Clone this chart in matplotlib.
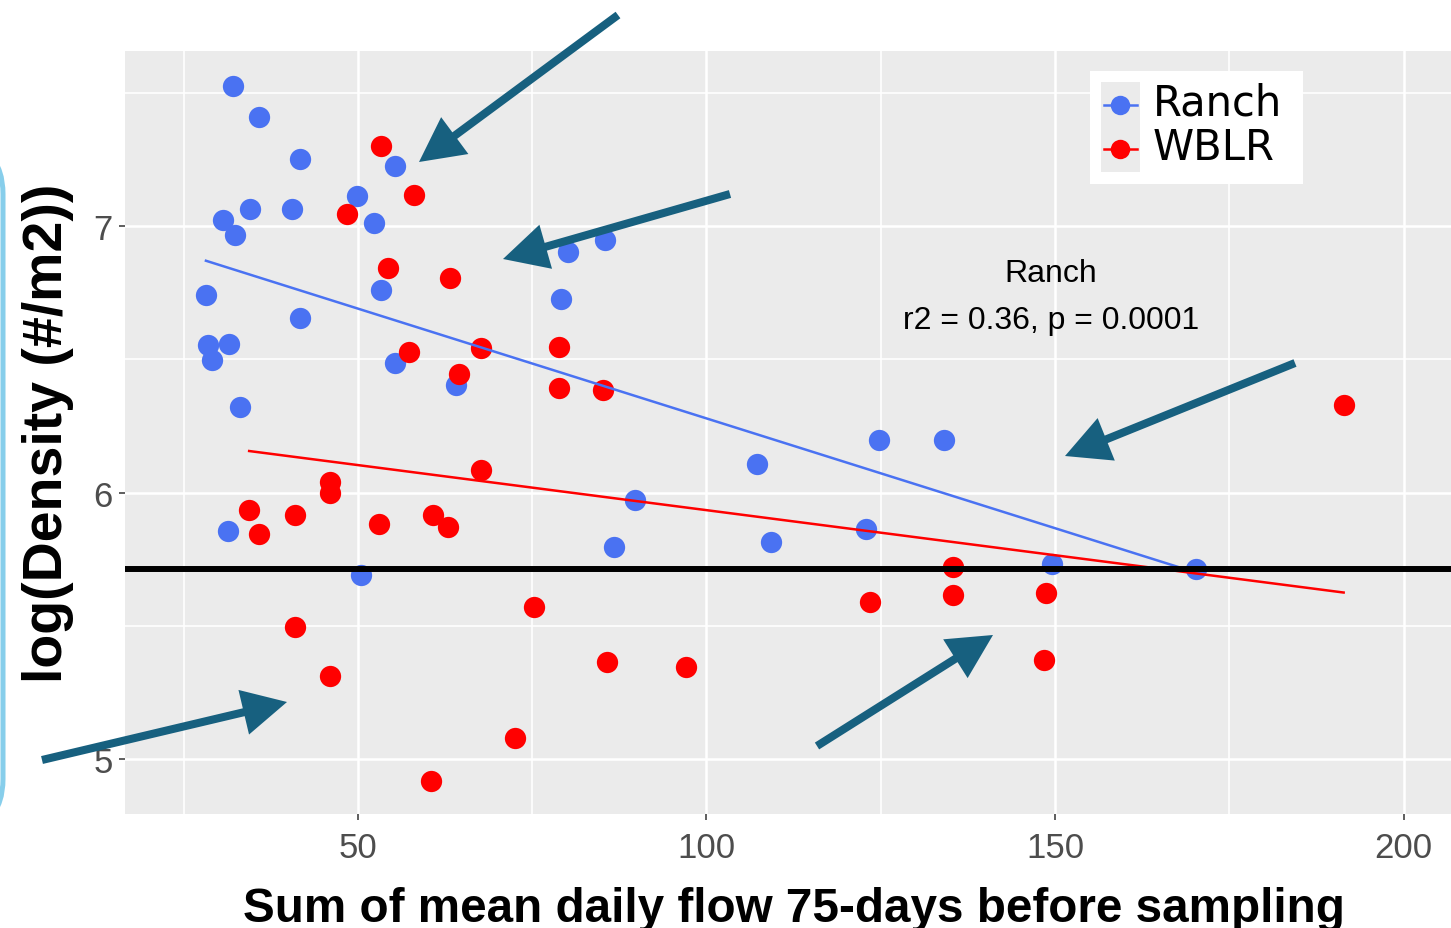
import matplotlib
matplotlib.use("Agg")
import matplotlib.pyplot as plt
from matplotlib.patches import FancyArrowPatch, FancyBboxPatch, Rectangle
from matplotlib.lines import Line2D
from matplotlib.ticker import MultipleLocator

plt.rcParams['font.family'] = ['Liberation Sans', 'DejaVu Sans']

# Ranch samples: summed flow vs log density
ranch_flow = [32.1, 35.8, 41.7, 55.3, 49.9, 34.5, 40.5, 30.7, 52.3, 32.4,
              85.5, 80.2, 28.2, 53.3, 79.2, 41.7, 28.5, 31.5, 29.1, 55.3,
              64.0, 33.1, 124.8, 134.1, 107.3, 89.7, 31.4, 122.9, 86.7, 109.2,
              50.4, 149.6, 170.2]
ranch_density = [7.525, 7.409, 7.251, 7.225, 7.113, 7.064, 7.064, 7.023, 7.011, 6.966,
                 6.947, 6.902, 6.741, 6.760, 6.726, 6.655, 6.553, 6.557, 6.497, 6.486,
                 6.403, 6.321, 6.197, 6.197, 6.107, 5.972, 5.856, 5.863, 5.796, 5.814,
                 5.690, 5.732, 5.713]

# WBLR samples
wblr_flow = [53.3, 58.0, 48.4, 54.3, 63.2, 57.3, 67.6, 78.8, 64.5, 78.9,
             85.1, 191.4, 67.6, 46.0, 46.0, 34.4, 41.0, 35.8, 53.0, 60.7,
             62.9, 135.4, 135.4, 148.7, 75.2, 123.5, 41.0, 85.8, 148.4, 97.1,
             46.0, 72.6, 60.5]
wblr_density = [7.300, 7.116, 7.045, 6.842, 6.805, 6.527, 6.542, 6.546, 6.445, 6.392,
                6.385, 6.328, 6.084, 6.039, 5.998, 5.934, 5.916, 5.844, 5.882, 5.916,
                5.871, 5.720, 5.615, 5.623, 5.570, 5.589, 5.495, 5.364, 5.371, 5.345,
                5.311, 5.079, 4.917]

# linear fit end points for each site
ranch_fit_flow = [28.2, 170.2]
ranch_fit_density = [6.87, 5.70]
wblr_fit_flow = [34.4, 191.4]
wblr_fit_density = [6.156, 5.625]

threshold = 5.713

site_names = ["Ranch", "WBLR"]
site_colors = ["#4A72F2", "#FF0000"]

x_ticks = [50, 100, 150, 200]
y_ticks = [5, 6, 7]

W, H = 1451, 929
ARROW_COLOR = "#17607F"

# arrows as (tail_x, tail_y, tip_x, tip_y) in image pixels
arrows = [
    (618, 16, 419, 163),
    (730, 195, 503, 260),
    (1295, 364, 1065, 457),
    (42, 761, 287, 703),
    (817, 747, 993, 636),
]


def fx(x):
    return x / W


def fy(y):
    return 1 - y / H


fig = plt.figure(figsize=(W / 100, H / 100), dpi=100)
ax = fig.add_axes([fx(125), fy(815), fx(1451) - fx(125), fy(52) - fy(815)])

ax.set_facecolor("#EBEBEB")
for s in ax.spines.values():
    s.set_visible(False)

ax.set_xlim(16.59, 206.8)
ax.set_ylim(4.794, 7.657)
ax.set_xticks(x_ticks)
ax.set_yticks(y_ticks)
ax.xaxis.set_minor_locator(MultipleLocator(25))
ax.yaxis.set_minor_locator(MultipleLocator(0.5))
ax.grid(which="major", color="white", lw=1.8)
ax.grid(which="minor", color="white", lw=1.2)
ax.set_axisbelow(True)
ax.tick_params(which="major", length=4, width=1.1, color="#333333",
               labelsize=25, labelcolor="#4D4D4D", pad=5)
ax.tick_params(axis="x", which="major", pad=8)
ax.tick_params(which="minor", length=0)

ax.set_xlabel("Sum of mean daily flow 75-days before sampling",
              fontsize=34.3, fontweight="bold", labelpad=16)
ax.xaxis.label.set_x(0.5045)
ax.set_ylabel("log(Density (#/m2))", fontsize=40, fontweight="bold", labelpad=14)

# points and fitted lines
ax.scatter(ranch_flow, ranch_density, s=235, color=site_colors[0], lw=0, zorder=3)
ax.scatter(wblr_flow, wblr_density, s=235, color=site_colors[1], lw=0, zorder=3)
ax.plot(ranch_fit_flow, ranch_fit_density, color=site_colors[0], lw=1.8, zorder=4)
ax.plot(wblr_fit_flow, wblr_fit_density, color=site_colors[1], lw=1.8, zorder=4)

ax.axhline(threshold, color="black", lw=4.3, zorder=5)

ax.text(149.4, 6.735, "Ranch\nr2 = 0.36, p = 0.0001", ha="center", va="center",
        fontsize=23, linespacing=1.75, zorder=6)

# legend box drawn by hand
fig.add_artist(Rectangle((fx(1090), fy(185)), fx(1303) - fx(1090), fy(72) - fy(185),
                         transform=fig.transFigure, facecolor="white", edgecolor="none", zorder=10))
fig.add_artist(Rectangle((fx(1101), fy(173)), fx(1140) - fx(1101), fy(83) - fy(173),
                         transform=fig.transFigure, facecolor="#EBEBEB", edgecolor="none", zorder=11))
for i, (name, col) in enumerate(zip(site_names, site_colors)):
    yk = 106 + i * 44
    fig.add_artist(Line2D([fx(1104), fx(1137)], [fy(yk), fy(yk)], transform=fig.transFigure,
                          color=col, lw=1.8, zorder=12))
    fig.add_artist(Line2D([fx(1120)], [fy(yk)], transform=fig.transFigure, marker="o",
                          markersize=14, color=col, markeredgewidth=0, zorder=12))
    fig.text(fx(1153), fy(yk + 10), name, fontsize=30, family="DejaVu Sans",
             ha="left", va="baseline", zorder=12)

# pointer arrows
for x0, y0, x1, y1 in arrows:
    fig.add_artist(FancyArrowPatch((fx(x0), fy(y0)), (fx(x1), fy(y1)),
                                   transform=fig.transFigure,
                                   arrowstyle="simple,tail_width=0.58,head_width=3.3,head_length=3.2",
                                   mutation_scale=10, color=ARROW_COLOR, lw=0,
                                   shrinkA=0, shrinkB=0, zorder=20))

# rounded frame edge at the left margin
fig.add_artist(FancyBboxPatch((-3.0, (H - 830) / 100), 3.03, (830 - 145) / 100,
                              boxstyle="round,pad=0,rounding_size=0.5",
                              transform=fig.dpi_scale_trans, facecolor="none",
                              edgecolor="#87CEEB", lw=3.6, zorder=20))

fig.savefig("out.png", dpi=100)
